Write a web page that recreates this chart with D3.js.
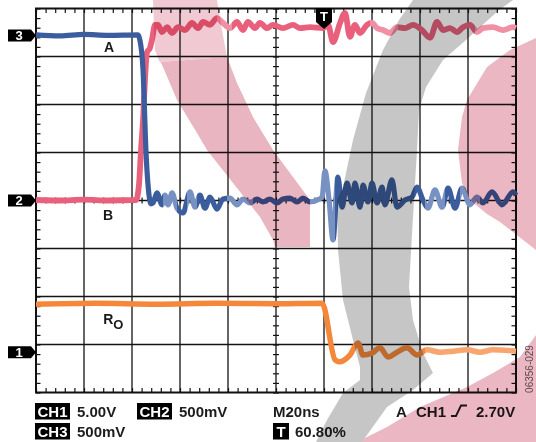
<!DOCTYPE html>
<html>
<head>
<meta charset="utf-8">
<script src="https://cdn.jsdelivr.net/npm/d3@7"></script>
<style>
  html, body { margin: 0; padding: 0; background: #fff; }
  svg { display: block; font-family: "Liberation Sans", Arial, sans-serif; }
</style>
</head>
<body>
<svg id="scope" width="536" height="442"></svg>
<script>
// Time axis: 20 ns/div over 10 divisions. Levels are in screen divisions (0 = centre line).
const timeDomain = [0, 200];
const levelDomain = [-4, 4];

// Trace A (CH3): high, falls, then rings around the centre line
const traceA = [
  [0, 3.45], [10, 3.43], [20, 3.46], [30, 3.44], [42.5, 3.45],
  [43.3, 3.34], [44.6, 2.72], [45.8, 1.05], [47.1, 0.11], [47.9, -0.07],
  [48.75, -0.05], [50.4, 0.16], [52.5, -0.09], [53.75, 0.11], [55, -0.09],
  [56.7, 0.16], [58.75, -0.16], [61.25, -0.26], [64.2, 0.18], [66.25, -0.14],
  [68.3, 0.11], [70.4, -0.16], [72.5, 0.07], [75.4, -0.18], [77.9, 0.03],
  [80.8, 0.05], [83.75, -0.09], [86.25, 0.03], [89.2, -0.05], [92.1, 0.03],
  [94.6, -0.03], [97.5, 0.03], [100.4, -0.05], [102.9, 0.03], [105.8, 0.05],
  [108.75, -0.03], [111.25, 0.05], [114.2, -0.03], [117.1, 0.01], [119.2, 0.07],
  [120.4, 0.62], [122.1, 0.01], [123.75, -0.82], [125.8, 0.49], [127.5, -0.14],
  [129.6, 0.36], [131.7, -0.05], [132.9, 0.36], [135, -0.14], [136.25, 0.32],
  [138.3, -0.03], [140, 0.36], [142.1, -0.05], [144.2, 0.28], [145.4, -0.09],
  [148.3, 0.43], [150.4, -0.14], [153.75, 0.01], [156.7, 0.07], [158.75, 0.28],
  [161.25, 0.01], [163.3, -0.16], [166.25, 0.22], [169.2, -0.14], [171.7, 0.26],
  [174.6, -0.16], [177.5, 0.26], [180.8, -0.09], [183.75, 0.07], [186.25, -0.05],
  [190, 0.18], [194.2, -0.09], [198.75, 0.18], [200, 0.11]
];

// Trace B (CH2): low, rises, then rings near the top
const traceB = [
  [0, 0.01], [10, 0.0], [20, 0.02], [30, 0.0], [41.7, 0.01],
  [42.9, 0.32], [43.75, 1.05], [44.6, 1.68], [45.4, 2.51], [46.25, 3.09],
  [47.5, 3.18], [48.3, 3.34], [49.6, 3.66], [50.8, 3.66], [52.5, 3.51],
  [54.6, 3.61], [56.7, 3.49], [59.2, 3.61], [62.1, 3.55], [65, 3.70],
  [67.5, 3.59], [69.6, 3.72], [72.5, 3.66], [75.4, 3.80], [77.9, 3.70],
  [80.8, 3.59], [83.75, 3.72], [86.25, 3.55], [88.3, 3.72], [91.25, 3.59],
  [93.3, 3.70], [96.25, 3.59], [98.75, 3.66], [102.9, 3.59], [107.1, 3.66],
  [110, 3.59], [114.2, 3.61], [119.6, 3.59], [121.7, 3.66], [123.75, 3.30],
  [126.7, 3.70], [128.75, 3.91], [130.8, 3.41], [132.9, 3.66], [135, 3.49],
  [137.9, 3.66], [140, 3.70], [142.1, 3.59], [144.6, 3.55], [147.5, 3.49],
  [150.4, 3.61], [153.75, 3.59], [157.1, 3.66], [160.8, 3.55], [164.2, 3.39],
  [167.1, 3.72], [169.6, 3.55], [172.5, 3.59], [175.4, 3.51], [177.9, 3.61],
  [180.8, 3.66], [183.75, 3.51], [186.25, 3.59], [190.4, 3.61], [194.6, 3.55],
  [198.75, 3.61], [200, 3.59]
];

// Receiver output RO (CH1): high until the trigger, then drops and settles
const traceRO = [
  [0, -2.16], [25, -2.14], [50, -2.16], [75, -2.14], [100, -2.15], [119.2, -2.14],
  [124.6, -3.32], [126.3, -3.36], [130.8, -3.22], [134.2, -2.97], [136.25, -3.22],
  [140, -3.18], [143.3, -3.07], [146.7, -3.26], [150.4, -3.16], [154.6, -3.07],
  [158.75, -3.22], [162.9, -3.11], [168.3, -3.16], [173.75, -3.14], [179.6, -3.11],
  [185, -3.16], [190.4, -3.11], [200, -3.14]
];

// Time spans drawn at lower persistence intensity
const dimA = [[52.9, 58.75], [62.9, 67.1], [79.6, 90.4], [114.2, 124.6], [162, 170.4], [176.7, 185]];
const dimB = [[75.4, 81.7], [139, 151], [183, 200]];
const dimRO = [[162, 200]];

// Channel ground markers (level in divisions) and trigger position (ns)
const channelMarkers = [
  { label: "3", level: 3.44 },
  { label: "2", level: 0 },
  { label: "1", level: -3.16 }
];
const triggerTime = 120;

// Readout text
const readoutRow1 = [
  { box: "CH1", text: "5.00V" },
  { box: "CH2", text: "500mV" }
];
const readoutRow2 = [{ box: "CH3", text: "500mV" }];
const timebase = "M20ns";
const triggerPos = "60.80%";
const triggerSource = ["A", "CH1", "2.70V"];
const figureId = "06356-029";

const svg = d3.select("#scope");
const x = d3.scaleLinear().domain(timeDomain).range([36, 516]);
const y = d3.scaleLinear().domain(levelDomain).range([392.5, 8.5]);

const defs = svg.append("defs");
svg.append("rect").attr("width", 536).attr("height", 442).attr("fill", "#fff");

// Graticule
const grid = svg.append("g").attr("stroke", "#141414").attr("stroke-width", 1.3);
grid.selectAll("line.v").data(d3.range(20, 200, 20)).join("line")
  .attr("x1", d => x(d)).attr("x2", d => x(d)).attr("y1", y(4)).attr("y2", y(-4));
grid.selectAll("line.h").data(d3.range(-3, 4, 1)).join("line")
  .attr("y1", d => y(d)).attr("y2", d => y(d)).attr("x1", x(0)).attr("x2", x(200));

const minorT = d3.range(0, 200.001, 4);
const minorV = d3.range(-4, 4.001, 0.2);
function tickAxis(axis, transform) {
  const g = svg.append("g").attr("transform", transform).call(axis);
  g.select(".domain").remove();
  g.selectAll("line").attr("stroke", "#141414").attr("stroke-width", 1.2);
}
tickAxis(d3.axisBottom(x).tickValues(minorT).tickSize(4.5).tickFormat(""), `translate(0,${y(4)})`);
tickAxis(d3.axisTop(x).tickValues(minorT).tickSize(4.5).tickFormat(""), `translate(0,${y(-4)})`);
tickAxis(d3.axisRight(y).tickValues(minorV).tickSize(4.5).tickFormat(""), `translate(${x(0)},0)`);
tickAxis(d3.axisLeft(y).tickValues(minorV).tickSize(4.5).tickFormat(""), `translate(${x(200)},0)`);
tickAxis(d3.axisBottom(x).tickValues(minorT).tickSize(3).tickFormat(""), `translate(0,${y(0)})`);
tickAxis(d3.axisTop(x).tickValues(minorT).tickSize(3).tickFormat(""), `translate(0,${y(0)})`);
tickAxis(d3.axisRight(y).tickValues(minorV).tickSize(3).tickFormat(""), `translate(${x(100)},0)`);
tickAxis(d3.axisLeft(y).tickValues(minorV).tickSize(3).tickFormat(""), `translate(${x(100)},0)`);

svg.append("rect")
  .attr("x", x(0)).attr("y", y(4))
  .attr("width", x(200) - x(0)).attr("height", y(-4) - y(4))
  .attr("fill", "none").attr("stroke", "#111").attr("stroke-width", 2);

// Intensity-graded stroke along the time axis
function intensityGradient(id, bright, dim, spans) {
  const g = defs.append("linearGradient").attr("id", id)
    .attr("gradientUnits", "userSpaceOnUse")
    .attr("x1", x(0)).attr("x2", x(200)).attr("y1", 0).attr("y2", 0);
  const span = timeDomain[1] - timeDomain[0];
  g.append("stop").attr("offset", 0).attr("stop-color", bright);
  spans.forEach(([a, b]) => {
    g.append("stop").attr("offset", a / span).attr("stop-color", bright);
    g.append("stop").attr("offset", a / span).attr("stop-color", dim);
    g.append("stop").attr("offset", b / span).attr("stop-color", dim);
    g.append("stop").attr("offset", b / span).attr("stop-color", bright);
  });
  g.append("stop").attr("offset", 1).attr("stop-color", bright);
  return `url(#${id})`;
}

const line = d3.line().x(d => x(d[0])).y(d => y(d[1])).curve(d3.curveMonotoneX);
const traces = svg.append("g").attr("fill", "none")
  .attr("stroke-linejoin", "round").attr("stroke-linecap", "butt");

traces.append("path").datum(traceRO).attr("d", line)
  .attr("stroke", intensityGradient("gRO", "#f5873a", "#f8a56f", dimRO)).attr("stroke-width", 5.5);
traces.append("path").datum(traceB).attr("d", line)
  .attr("stroke", intensityGradient("gB", "#e8607b", "#ef90a4", dimB)).attr("stroke-width", 5.8);
traces.append("path").datum(traceA).attr("d", line)
  .attr("stroke", intensityGradient("gA", "#3b5d9d", "#7891c3", dimA)).attr("stroke-width", 5.2);

// Trace labels
const lbl = svg.append("g").attr("font-weight", "bold").attr("fill", "#1a1a1a").attr("font-size", 14);
lbl.append("text").attr("x", x(30.4)).attr("y", y(traceA[0][1]) + 17).attr("text-anchor", "middle").text("A");
lbl.append("text").attr("x", x(30)).attr("y", y(traceB[0][1]) + 20).attr("text-anchor", "middle").text("B");
const ro = lbl.append("text").attr("x", x(28)).attr("y", y(traceRO[0][1]) + 20);
ro.append("tspan").text("R");
ro.append("tspan").attr("dy", 5).attr("font-size", 13).text("O");

// Channel ground markers
const mk = svg.append("g");
channelMarkers.forEach(m => {
  const cy = y(m.level);
  mk.append("path")
    .attr("d", `M8,${cy - 6}H31L36,${cy}L31,${cy + 6}H8Z`).attr("fill", "#000");
  mk.append("text").attr("x", 19).attr("y", cy + 4.5).attr("text-anchor", "middle")
    .attr("fill", "#fff").attr("font-weight", "bold").attr("font-size", 13).text(m.label);
});

// Trigger marker
const tx = x(triggerTime);
svg.append("path").attr("d", `M${tx - 8},8H${tx + 8}V22L${tx},29L${tx - 8},22Z`).attr("fill", "#000");
svg.append("text").attr("x", tx).attr("y", 20.5).attr("text-anchor", "middle")
  .attr("fill", "#fff").attr("font-weight", "bold").attr("font-size", 13).text("T");

// Readout
const ro1 = svg.append("g").attr("font-weight", "bold").attr("font-size", 15).attr("fill", "#1c1c1c");
function boxed(g, label, bx, base, w) {
  g.append("rect").attr("x", bx).attr("y", base - 13.5).attr("width", w).attr("height", 16.5).attr("fill", "#000");
  g.append("text").attr("x", bx + w / 2).attr("y", base).attr("text-anchor", "middle")
    .attr("fill", "#fff").attr("font-size", 15).text(label);
}
const row1Base = 416.5, row2Base = 436.5;
const row1X = [35, 137];
readoutRow1.forEach((r, i) => {
  boxed(ro1, r.box, row1X[i], row1Base, 35);
  ro1.append("text").attr("x", row1X[i] + 42).attr("y", row1Base).text(r.text);
});
readoutRow2.forEach(r => {
  boxed(ro1, r.box, 35, row2Base, 35);
  ro1.append("text").attr("x", 77).attr("y", row2Base).text(r.text);
});
ro1.append("text").attr("x", 273).attr("y", row1Base).text(timebase);
boxed(ro1, "T", 273, row2Base, 16);
ro1.append("text").attr("x", 295).attr("y", row2Base).text(triggerPos);
ro1.append("text").attr("x", 396).attr("y", row1Base).text(triggerSource[0]);
ro1.append("text").attr("x", 416).attr("y", row1Base).text(triggerSource[1]);
ro1.append("path").attr("d", `M451,${row1Base - 0.5}H456L461,${row1Base - 11}H467`)
  .attr("fill", "none").attr("stroke", "#1c1c1c").attr("stroke-width", 1.8);
ro1.append("text").attr("x", 476).attr("y", row1Base).text(triggerSource[2]);

svg.append("text").attr("transform", "translate(533,369) rotate(-90)")
  .attr("text-anchor", "middle").attr("font-size", 10).attr("fill", "#666").text(figureId);

// Backdrop logo, multiplied over everything
const backdrop = svg.append("g").style("mix-blend-mode", "multiply");
const pinkLight = [[153,0],[217,0],[222,30],[227,57],[160,62],[155,50]];
const pinkBand = [[155,50],[160,62],[227,57],[237,83],[253,117],[273,150],[293,177],[310,200],[310,247],[275,247],[273,240],[260,217],[233,183],[207,150],[197,133],[177,100],[163,67]];
const pinkCrescent = [[536,38],[510,50],[487,67],[467,100],[462,117],[458,150],[462,183],[470,200],[487,214],[500,222],[536,250]];
const pinkCorner = [[536,335],[520,357],[493,373],[467,387],[420,407],[387,427],[357,442],[536,442]];
const greyBand = [[413,0],[513,0],[499,10],[466,40],[443,60],[426,87],[419,110],[417,150],[413,217],[409,287],[413,320],[423,353],[433,373],[413,390],[387,407],[362,442],[316,442],[327,420],[343,393],[360,380],[360,367],[353,340],[343,300],[338,250],[337,200],[343,187],[353,140],[366,93],[383,50],[399,20]];
const poly = d3.line();
backdrop.append("path").attr("d", poly(pinkLight) + "Z").attr("fill", "#f0c9d2");
backdrop.append("path").attr("d", poly(pinkBand) + "Z").attr("fill", "#e9b5c0");
backdrop.append("path").attr("d", poly(pinkCrescent) + "Z").attr("fill", "#eab7c2");
backdrop.append("path").attr("d", poly(pinkCorner) + "Z").attr("fill", "#eab7c2");
backdrop.append("path").attr("d", poly(greyBand) + "Z").attr("fill", "#c6c6c6");
</script>
</body>
</html>
